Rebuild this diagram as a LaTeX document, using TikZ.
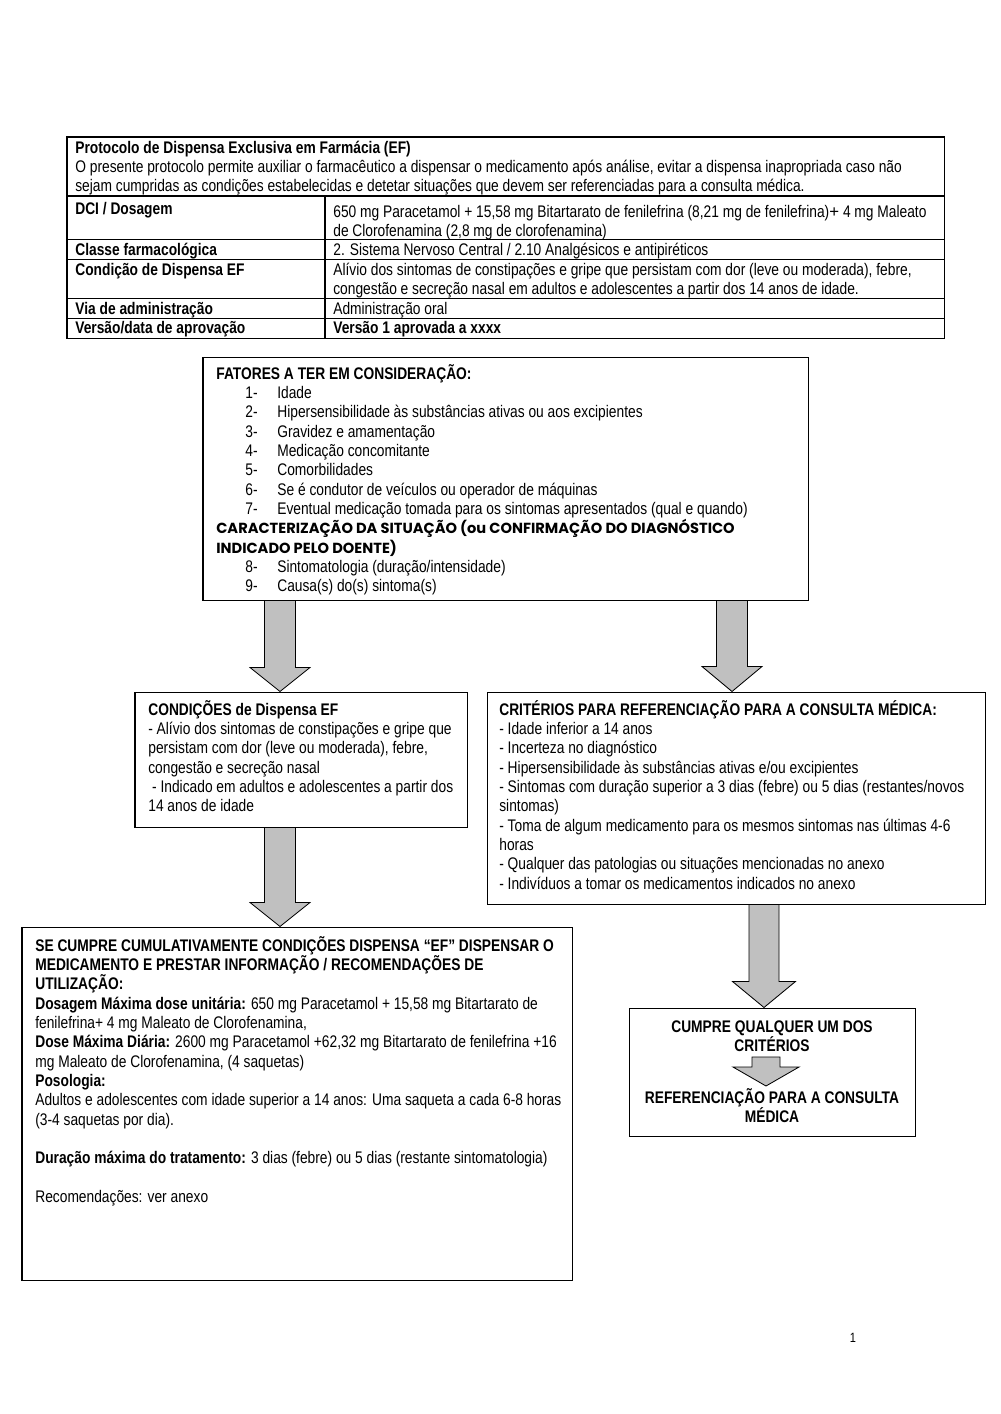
\documentclass[tikz,border=0pt]{standalone}
\usepackage{fontspec}
\setmainfont{Liberation Sans}[FakeStretch=0.82]
\newfontfamily\widefont{Liberation Sans}
\newfontfamily\gothicfont{Poppins}
\usepackage{tikz}
\usetikzlibrary{positioning,calc,fit}
\definecolor{arrowgray}{RGB}{192,192,192}

\tikzset{
  box/.style={draw, line width=0.6pt, inner sep=0pt},
  txt/.style={anchor=north west, inner sep=0pt, align=left, font=\fontsize{10}{11.5}\selectfont},
  reftxt/.style={anchor=north, inner xsep=0pt, align=center, font=\bfseries\fontsize{10}{11.5}\selectfont},
  blockarrow/.style={draw=black, line width=0.5pt, fill=arrowgray},
}

\newcommand{\topstrut}{\rule{0pt}{10pt}}
\newcommand{\fitem}[2]{\hspace*{17.3pt}\makebox[19pt][l]{#1}#2}
% block arrow: from, to, column, shaft half width, head half width, head length
\newcommand{\blockarrow}[6]{%
  \filldraw[blockarrow]
    ($(#1 -| #3)+(-#4,0)$) -- ($(#1 -| #3)+(#4,0)$)
    -- ($(#2 -| #3)+(#4,-#6)$) -- ($(#2 -| #3)+(#5,-#6)$)
    -- (#2 -| #3) -- ($(#2 -| #3)+(-#5,-#6)$)
    -- ($(#2 -| #3)+(-#4,-#6)$) -- cycle;}

\begin{document}
\begin{tikzpicture}[x=0.595pt, y=-0.595pt]
    \useasboundingbox (0,0) rectangle (1000,1414);

    % Table
    \draw [line width=0.6pt] (67,137) rectangle (944,338);
    \foreach \yy in {196,239,259,298,318}
        \draw [line width=0.6pt] (67,\yy) -- (944,\yy);
    \draw [line width=0.6pt] (325,196) -- (325,338);
    \node [txt] (hdr) at (75,136) {\topstrut{\bfseries Protocolo de Dispensa Exclusiva em Farmácia (EF)}\\
        O presente protocolo permite auxiliar o farmacêutico a dispensar o medicamento após análise, evitar a dispensa inapropriada caso não\\
        sejam cumpridas as condições estabelecidas e detetar situações que devem ser referenciadas para a consulta médica.};
    \node [txt, font=\bfseries\fontsize{10}{11.5}\selectfont] (dciL) at (75,197) {\topstrut DCI / Dosagem};
    \node [txt] (dciV) at (333,200) {\topstrut 650 mg Paracetamol + 15,58 mg Bitartarato de fenilefrina (8,21 mg de fenilefrina){\widefont+} 4 mg Maleato\\
        de Clorofenamina (2,8 mg de clorofenamina)};
    \node [txt, font=\bfseries\fontsize{10}{11.5}\selectfont] (classeL) at (75,238) {\topstrut Classe farmacológica};
    \node [txt] (classeV) at (333,238) {\topstrut 2. Sistema Nervoso Central / 2.10 Analgésicos e antipiréticos};
    \node [txt, font=\bfseries\fontsize{10}{11.5}\selectfont] (condL) at (75,258) {\topstrut Condição de Dispensa EF};
    \node [txt] (condV) at (333,258) {\topstrut Alívio dos sintomas de constipações e gripe que persistam com dor (leve ou moderada), febre,\\
        congestão e secreção nasal em adultos e adolescentes a partir dos 14 anos de idade.};
    \node [txt, font=\bfseries\fontsize{10}{11.5}\selectfont] (viaL) at (75,297) {\topstrut Via de administração};
    \node [txt] (viaV) at (333,297) {\topstrut Administração oral};
    \node [txt, font=\bfseries\fontsize{10}{11.5}\selectfont] (verL) at (75,316) {\topstrut Versão/data de aprovação};
    \node [txt, font=\bfseries\fontsize{10}{11.5}\selectfont] (verV) at (333,316) {\topstrut Versão 1 aprovada a xxxx};

    % Boxes
    \node [box, fit={(203,357) (808,600)}] (fat) {};
    \node [box, fit={(135,692) (467,827)}] (cond) {};
    \node [box, fit={(487,692) (985,904)}] (crit) {};
    \node [box, fit={(22,927) (572,1280)}] (disp) {};
    \node [box, fit={(629,1008) (915,1136)}] (ref) {};

    % Factors
    \node [txt] (fatText) at (216,362) {\topstrut{\bfseries FATORES A TER EM CONSIDERAÇÃO:}\\
        \fitem{1-}{Idade}\\
        \fitem{2-}{Hipersensibilidade às substâncias ativas ou aos excipientes}\\
        \fitem{3-}{Gravidez e amamentação}\\
        \fitem{4-}{Medicação concomitante}\\
        \fitem{5-}{Comorbilidades}\\
        \fitem{6-}{Se é condutor de veículos ou operador de máquinas}\\
        \fitem{7-}{Eventual medicação tomada para os sintomas apresentados (qual e quando)}\\
        {\gothicfont\bfseries\fontsize{8.7}{11.5}\selectfont CARACTERIZAÇÃO DA SITUAÇÃO (ou CONFIRMAÇÃO DO DIAGNÓSTICO}\\
        {\gothicfont\bfseries\fontsize{8.7}{11.5}\selectfont INDICADO PELO DOENTE)}\\
        \fitem{8-}{Sintomatologia (duração/intensidade)}\\
        \fitem{9-}{Causa(s) do(s) sintoma(s)}};

    % Conditions
    \node [txt] (condText) at (148,698) {\topstrut{\bfseries CONDIÇÕES de Dispensa EF}\\
        - Alívio dos sintomas de constipações e gripe que\\
        persistam com dor (leve ou moderada), febre,\\
        congestão e secreção nasal\\
        \ - Indicado em adultos e adolescentes a partir dos\\
        14 anos de idade};

    % Criteria
    \node [txt] (critText) at (499,698) {\topstrut{\bfseries CRITÉRIOS PARA REFERENCIAÇÃO PARA A CONSULTA MÉDICA:}\\
        - Idade inferior a 14 anos\\
        - Incerteza no diagnóstico\\
        - Hipersensibilidade às substâncias ativas e/ou excipientes\\
        - Sintomas com duração superior a 3 dias (febre) ou 5 dias (restantes/novos\\
        sintomas)\\
        - Toma de algum medicamento para os mesmos sintomas nas últimas 4-6\\
        horas\\
        - Qualquer das patologias ou situações mencionadas no anexo\\
        - Indivíduos a tomar os medicamentos indicados no anexo};

    % Dispensing
    \node [txt] (dispText) at (35,934) {\topstrut{\bfseries SE CUMPRE CUMULATIVAMENTE CONDIÇÕES DISPENSA “EF” DISPENSAR O}\\
        {\bfseries MEDICAMENTO E PRESTAR INFORMAÇÃO / RECOMENDAÇÕES DE}\\
        {\bfseries UTILIZAÇÃO:}\\
        {\bfseries Dosagem Máxima dose unitária:} 650 mg Paracetamol + 15,58 mg Bitartarato de\\
        fenilefrina+ 4 mg Maleato de Clorofenamina,\\
        {\bfseries Dose Máxima Diária:} 2600 mg Paracetamol +62,32 mg Bitartarato de fenilefrina +16\\
        mg Maleato de Clorofenamina, (4 saquetas)\\
        {\bfseries Posologia:}\\
        Adultos e adolescentes com idade superior a 14 anos: Uma saqueta a cada 6-8 horas\\
        (3-4 saquetas por dia).\\[11.5pt]
        {\bfseries Duração máxima do tratamento:} 3 dias (febre) ou 5 dias (restante sintomatologia)\\[11.5pt]
        Recomendações: ver anexo};

    % Referral
    \node [reftxt, inner ysep=3pt] (refTop) at (772,1010) {\topstrut CUMPRE QUALQUER UM DOS\\CRITÉRIOS};
    \node [reftxt, inner ysep=0pt] (refBot) at (772,1086) {\topstrut REFERENCIAÇÃO PARA A CONSULTA\\MÉDICA};

    % Arrows
    \coordinate (colA) at (280,0);
    \coordinate (colB) at (732,0);
    \coordinate (colD) at (764,0);
    \coordinate (colE) at (766,0);
    \blockarrow{fat.south}{cond.north}{colA}{15.5}{30}{24}
    \blockarrow{fat.south}{crit.north}{colB}{15.5}{30}{25}
    \blockarrow{cond.south}{disp.north}{colA}{15.5}{30}{24}
    \blockarrow{crit.south}{ref.north}{colD}{15}{31.5}{26}
    \blockarrow{refTop.south}{refBot.north}{colE}{14}{33}{19}

    \node (pgnum) at (853,1338) {\fontsize{8}{9}\selectfont 1};
\end{tikzpicture}
\end{document}
